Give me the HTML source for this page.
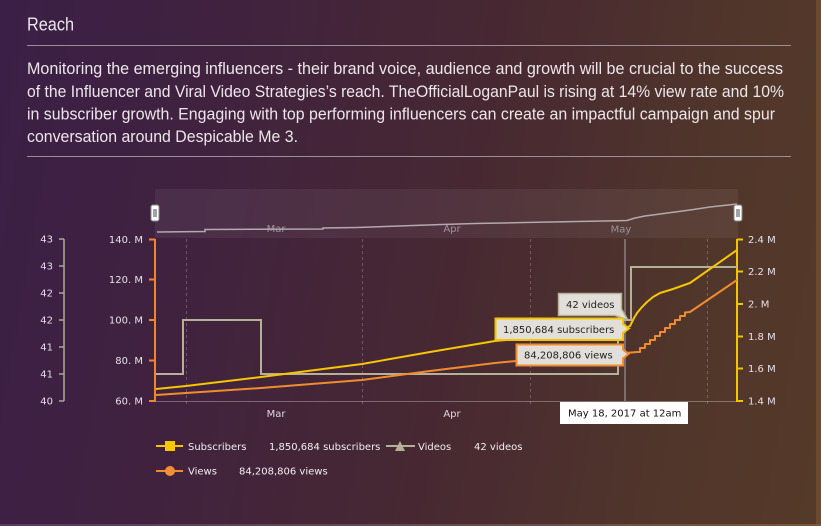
<!DOCTYPE html>
<html>
<head>
<meta charset="utf-8">
<style>
  html,body{margin:0;padding:0;}
  body{width:821px;height:526px;overflow:hidden;position:relative;
    background:linear-gradient(100deg,#3b1f46 0%,#40223f 25%,#472832 55%,#50352b 80%,#553a29 100%);}
  svg{position:absolute;left:0;top:0;}
</style>
</head>
<body>
<svg width="821" height="526" viewBox="0 0 821 526" xmlns="http://www.w3.org/2000/svg">
  <defs>
    <linearGradient id="bot" x1="0" x2="1" y1="0" y2="0">
      <stop offset="0" stop-color="#573a68"/>
      <stop offset="1" stop-color="#7a5638"/>
    </linearGradient>
  </defs>
  <!-- edges -->
  <rect x="816" y="0" width="5" height="526" fill="#6c4a30"/>
  <rect x="0" y="524" width="821" height="2" fill="url(#bot)"/>

  <!-- header -->
  <g font-family="'Liberation Sans', sans-serif" fill="#ece6ea">
    <text x="27" y="30.5" font-size="18" textLength="47" lengthAdjust="spacingAndGlyphs">Reach</text>
    <text x="27" y="74" font-size="16.5" textLength="756" lengthAdjust="spacingAndGlyphs">Monitoring the emerging influencers - their brand voice, audience and growth will be crucial to the success</text>
    <text x="27" y="97" font-size="16.5" textLength="757" lengthAdjust="spacingAndGlyphs">of the Influencer and Viral Video Strategies’s reach. TheOfficialLoganPaul is rising at 14% view rate and 10%</text>
    <text x="27" y="119.5" font-size="16.5" textLength="748" lengthAdjust="spacingAndGlyphs">in subscriber growth. Engaging with top performing influencers can create an impactful campaign and spur</text>
    <text x="27" y="142" font-size="16.5" textLength="271" lengthAdjust="spacingAndGlyphs">conversation around Despicable Me 3.</text>
  </g>
  <line x1="27" y1="45.5" x2="791" y2="45.5" stroke="#9c8e98" stroke-width="1"/>
  <line x1="27" y1="156.5" x2="791" y2="156.5" stroke="#9c8e98" stroke-width="1"/>

  <!-- navigator -->
  <rect x="155" y="189" width="583" height="49" fill="rgba(255,255,255,0.06)"/>
  <g font-family="'DejaVu Sans', Verdana, sans-serif" font-size="10" fill="#9d93a0" text-anchor="middle">
    <text x="276" y="232">Mar</text>
    <text x="452" y="232">Apr</text>
    <text x="621" y="232.5">May</text>
  </g>
  <polyline fill="none" stroke="#b3a9ad" stroke-width="1.5"
    points="157,232 205,231.5 205,229.5 323,229 323,228 357,227.5 385,226.5 413,225.5 442,224.5 475,223.5 525,222.5 577,221.5 617,220.8 627,220.5 635,218 645,216 660,214 675,212 690,210 710,207 737,204"/>
  <g>
    <rect x="151" y="205" width="8" height="16" rx="2" fill="#fff" stroke="#888" stroke-width="1"/>
    <line x1="154" y1="209" x2="154" y2="217" stroke="#444" stroke-width="1"/>
    <line x1="156" y1="209" x2="156" y2="217" stroke="#444" stroke-width="1"/>
    <rect x="734" y="205" width="8" height="16" rx="2" fill="#fff" stroke="#888" stroke-width="1"/>
    <line x1="737" y1="209" x2="737" y2="217" stroke="#444" stroke-width="1"/>
    <line x1="739" y1="209" x2="739" y2="217" stroke="#444" stroke-width="1"/>
  </g>

  <!-- grid dashed -->
  <g stroke="rgba(255,255,255,0.22)" stroke-width="1" stroke-dasharray="3,3">
    <line x1="186.5" y1="239" x2="186.5" y2="406"/>
    <line x1="362.5" y1="239" x2="362.5" y2="406"/>
    <line x1="530.5" y1="239" x2="530.5" y2="406"/>
    <line x1="707.5" y1="239" x2="707.5" y2="406"/>
  </g>
  <!-- x axis -->
  <line x1="155" y1="401.5" x2="737" y2="401.5" stroke="rgba(255,255,255,0.3)" stroke-width="1"/>
  <g font-family="'DejaVu Sans', Verdana, sans-serif" font-size="10" fill="#ddd8e0" text-anchor="middle">
    <text x="276" y="417">Mar</text>
    <text x="452" y="417">Apr</text>
  </g>

  <!-- far-left videos axis -->
  <g stroke="#aba890" stroke-width="1.5">
    <line x1="64" y1="239" x2="64" y2="401"/>
    <line x1="59" y1="239" x2="64" y2="239"/>
    <line x1="59" y1="266" x2="64" y2="266"/>
    <line x1="59" y1="293" x2="64" y2="293"/>
    <line x1="59" y1="320" x2="64" y2="320"/>
    <line x1="59" y1="347" x2="64" y2="347"/>
    <line x1="59" y1="374" x2="64" y2="374"/>
    <line x1="59" y1="401" x2="64" y2="401"/>
  </g>
  <g font-family="'DejaVu Sans', Verdana, sans-serif" font-size="10" fill="#e4e0e8" text-anchor="end">
    <text x="53" y="242.5">43</text>
    <text x="53" y="269.5">43</text>
    <text x="53" y="296.5">42</text>
    <text x="53" y="323.5">42</text>
    <text x="53" y="350.5">41</text>
    <text x="53" y="377.5">41</text>
    <text x="53" y="404.5">40</text>
  </g>

  <!-- left views axis -->
  <g stroke="#f0862a" stroke-width="2">
    <line x1="155" y1="239" x2="155" y2="402"/>
    <line x1="149" y1="239.5" x2="155" y2="239.5"/>
    <line x1="149" y1="279.5" x2="155" y2="279.5"/>
    <line x1="149" y1="320" x2="155" y2="320"/>
    <line x1="149" y1="360.5" x2="155" y2="360.5"/>
    <line x1="149" y1="401" x2="155" y2="401"/>
  </g>
  <g font-family="'DejaVu Sans', Verdana, sans-serif" font-size="10" fill="#e4e0e8" text-anchor="end">
    <text x="143" y="243">140. M</text>
    <text x="143" y="283">120. M</text>
    <text x="143" y="323.5">100. M</text>
    <text x="143" y="364">80. M</text>
    <text x="143" y="404.5">60. M</text>
  </g>

  <!-- right subscribers axis -->
  <g stroke="#f5c400" stroke-width="2">
    <line x1="737" y1="239" x2="737" y2="402"/>
    <line x1="737" y1="239.5" x2="743" y2="239.5"/>
    <line x1="737" y1="271.5" x2="743" y2="271.5"/>
    <line x1="737" y1="304" x2="743" y2="304"/>
    <line x1="737" y1="336.5" x2="743" y2="336.5"/>
    <line x1="737" y1="368.5" x2="743" y2="368.5"/>
    <line x1="737" y1="401" x2="743" y2="401"/>
  </g>
  <g font-family="'DejaVu Sans', Verdana, sans-serif" font-size="10" fill="#e4e0e8">
    <text x="748" y="243">2.4 M</text>
    <text x="748" y="275">2.2 M</text>
    <text x="748" y="307.5">2. M</text>
    <text x="748" y="340">1.8 M</text>
    <text x="748" y="372">1.6 M</text>
    <text x="748" y="404.5">1.4 M</text>
  </g>

  <!-- crosshair -->
  <line x1="625" y1="239" x2="625" y2="401" stroke="#8e8080" stroke-width="1.5"/>

  <!-- series: videos -->
  <polyline fill="none" stroke="#b4b197" stroke-width="2" stroke-linejoin="miter"
    points="156,374 183,374 183,320 261,320 261,374 618,374 618,320 631,320 631,267 737,267"/>
  <!-- series: views -->
  <polyline fill="none" stroke="#f08c2e" stroke-width="2" stroke-linejoin="round"
    points="156,395 186,393 261,388 362,380 430,371 495,363 516,361 560,358 600,355 625,353 637,352 640,352 640,348 645,348 645,344 650,344 650,340 655,340 655,336 660,336 660,332 665,332 665,328 670,328 670,324 675,324 675,320 680,320 680,316 685,316 685,312.5 690,312 737,280"/>
  <!-- series: subscribers -->
  <polyline fill="none" stroke="#f7c600" stroke-width="2" stroke-linejoin="round"
    points="156,389 186,386 261,377 362,364 430,352 495,341 560,335 618,329 625,328 630,326 634,318 637,313 642,307 647,302 653,297 660,293 673,289 690,283 737,250"/>

  <!-- tooltips -->
  <path d="M558.5,293.5 H621.5 V309 L628,320 L615,315.5 H558.5 Z" fill="#e2dfda" stroke="#b4b197" stroke-width="1.5"/>
  <path d="M495.5,318.5 H623 V324 L629,328.5 L623,333 V340 H495.5 Z" fill="#e2dfda" stroke="#f5c400" stroke-width="2"/>
  <path d="M516.5,344.5 H623 V349.5 L628.5,354 L623,358.5 V365.5 H516.5 Z" fill="#e2dfda" stroke="#f08c2e" stroke-width="2"/>
  <g font-family="'DejaVu Sans', Verdana, sans-serif" font-size="10" fill="#222">
    <text x="566" y="308">42 videos</text>
    <text x="503" y="333">1,850,684 subscribers</text>
    <text x="524" y="358.5">84,208,806 views</text>
  </g>

  <!-- date label -->
  <rect x="560" y="402" width="128" height="22" fill="#ffffff"/>
  <text x="568" y="416.5" font-family="'DejaVu Sans', Verdana, sans-serif" font-size="10" fill="#111">May 18, 2017 at 12am</text>

  <!-- legend -->
  <line x1="156" y1="446" x2="183" y2="446" stroke="#f5c400" stroke-width="2"/>
  <rect x="165" y="441" width="10" height="10" fill="#f7c600"/>
  <line x1="386" y1="446" x2="415" y2="446" stroke="#b4b197" stroke-width="2"/>
  <polygon points="395,451 405,451 400,441" fill="#b4b197"/>
  <line x1="156" y1="471" x2="183" y2="471" stroke="#f08c2e" stroke-width="2"/>
  <circle cx="170" cy="471" r="5" fill="#f39035"/>
  <g font-family="'DejaVu Sans', Verdana, sans-serif" font-size="10" fill="#f2eef2">
    <text x="188" y="450">Subscribers</text>
    <text x="269" y="450">1,850,684 subscribers</text>
    <text x="418" y="450">Videos</text>
    <text x="474" y="450">42 videos</text>
    <text x="188" y="474.5">Views</text>
    <text x="239" y="474.5">84,208,806 views</text>
  </g>
</svg>
</body>
</html>
